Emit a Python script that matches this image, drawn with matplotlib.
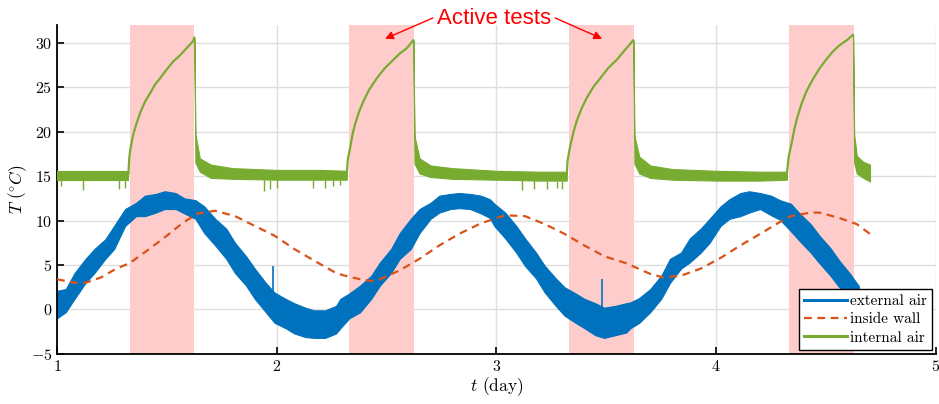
import numpy as np
import matplotlib
matplotlib.use('Agg')
import matplotlib.pyplot as plt

plt.rcParams['font.family'] = 'serif'
plt.rcParams['font.serif'] = ['cmr10', 'DejaVu Serif']
plt.rcParams['mathtext.fontset'] = 'cm'
plt.rcParams['axes.formatter.use_mathtext'] = True

# external air: noisy band (time, lower edge, upper edge)
ext_t = [1.00, 1.04, 1.08, 1.13, 1.17, 1.22, 1.26, 1.31, 1.36, 1.40, 1.45, 1.49, 1.54, 1.58,
         1.63, 1.67, 1.72, 1.77, 1.81, 1.86, 1.90, 1.95, 1.99, 2.04, 2.08, 2.13, 2.17, 2.22,
         2.27, 2.29, 2.33, 2.38, 2.43, 2.47, 2.52, 2.56, 2.61, 2.65, 2.70, 2.74, 2.79, 2.83,
         2.88, 2.93, 2.97, 2.99, 3.04, 3.09, 3.13, 3.18, 3.22, 3.27, 3.31, 3.36, 3.40, 3.45,
         3.49, 3.54, 3.59, 3.61, 3.65, 3.70, 3.75, 3.79, 3.84, 3.88, 3.93, 3.97, 4.02, 4.06,
         4.11, 4.15, 4.20, 4.25, 4.29, 4.34, 4.38, 4.43, 4.47, 4.52, 4.56, 4.61, 4.65]
ext_lo = [-1.0, -0.3, 1.2, 3.0, 4.1, 5.7, 6.8, 9.4, 10.5, 10.5, 10.9, 11.3, 11.3, 10.8,
          10.2, 8.6, 7.2, 5.7, 4.1, 2.7, 1.2, -0.3, -1.5, -2.1, -2.7, -3.1, -3.2, -3.2,
          -2.7, -2.1, -1.0, -0.3, 1.2, 2.7, 4.1, 5.7, 6.8, 8.6, 10.2, 10.9, 11.3, 11.4,
          11.3, 10.8, 10.3, 9.4, 8.0, 6.4, 4.9, 3.5, 1.9, 0.4, -0.7, -1.5, -2.1, -2.9,
          -3.2, -2.9, -2.6, -2.1, -1.5, -0.3, 1.2, 3.0, 4.6, 5.3, 6.4, 7.5, 9.4, 10.2,
          10.5, 10.9, 11.3, 10.6, 10.1, 8.8, 7.7, 6.4, 5.2, 3.8, 2.5, 1.8, 1.3]
ext_hi = [2.1, 2.3, 4.1, 5.7, 6.8, 7.9, 9.4, 11.3, 12.0, 12.8, 13.0, 13.3, 13.1, 12.5,
          12.3, 11.6, 10.2, 9.1, 7.5, 6.0, 4.6, 3.0, 1.9, 1.2, 0.7, 0.2, -0.1, -0.1,
          0.4, 1.2, 1.8, 2.7, 3.8, 5.3, 6.8, 8.6, 10.2, 11.3, 12.0, 12.8, 13.0, 13.1,
          13.0, 12.8, 12.4, 11.9, 10.9, 9.4, 8.0, 6.4, 4.9, 3.5, 2.5, 1.8, 1.2, 0.7,
          0.2, 0.4, 0.7, 0.8, 1.3, 2.3, 3.8, 5.7, 6.4, 8.0, 9.1, 10.2, 11.6, 12.4,
          13.1, 13.3, 13.1, 12.8, 12.3, 11.9, 10.8, 9.6, 8.3, 6.9, 5.5, 4.0, 2.6]
ext_spike_t = [1.983, 3.48]
ext_spike_top = [4.9, 3.4]

# inside wall
wall_t = [1.00, 1.08, 1.13, 1.20, 1.27, 1.33, 1.42, 1.50, 1.57, 1.64, 1.72, 1.81, 1.90,
          1.99, 2.08, 2.17, 2.27, 2.31, 2.38, 2.43, 2.47, 2.56, 2.65, 2.74, 2.83, 2.93,
          3.04, 3.13, 3.22, 3.31, 3.40, 3.49, 3.59, 3.70, 3.76, 3.84, 3.93, 4.02, 4.11,
          4.20, 4.28, 4.34, 4.43, 4.47, 4.56, 4.64, 4.70]
wall = [3.4, 3.0, 3.0, 3.6, 4.6, 5.2, 6.8, 8.3, 9.7, 10.8, 11.1, 10.5, 9.4,
        8.3, 6.8, 5.5, 4.1, 3.8, 3.4, 3.2, 3.4, 4.4, 5.7, 7.2, 8.5, 9.7,
        10.6, 10.5, 9.6, 8.5, 7.2, 6.0, 5.2, 4.0, 3.6, 3.8, 4.6, 5.8, 7.2,
        8.5, 9.7, 10.5, 10.9, 10.9, 10.3, 9.6, 8.5]

# internal air during the four heating runs (single clean curve)
heat1_t = [1.325, 1.329, 1.335, 1.347, 1.363, 1.378, 1.401, 1.423, 1.446, 1.469, 1.499, 1.529, 1.56, 1.59, 1.62, 1.625]
heat1 = [15.2, 17.1, 18.2, 19.7, 21.0, 22.1, 23.4, 24.3, 25.3, 26.0, 27.0, 27.9, 28.6, 29.4, 30.2, 30.6]
heat2_t = [2.319, 2.323, 2.334, 2.345, 2.356, 2.374, 2.394, 2.42, 2.455, 2.49, 2.531, 2.56, 2.592, 2.622]
heat2 = [15.2, 16.8, 18.2, 19.7, 20.8, 22.2, 23.4, 24.7, 26.0, 27.1, 28.1, 28.8, 29.4, 30.3]
heat3_t = [3.320, 3.324, 3.335, 3.35, 3.365, 3.387, 3.411, 3.44, 3.472, 3.51, 3.548, 3.585, 3.623]
heat3 = [15.2, 16.8, 18.3, 19.9, 21.2, 22.6, 23.8, 25.0, 26.0, 27.2, 28.1, 29.2, 30.3]
heat4_t = [4.322, 4.330, 4.345, 4.356, 4.368, 4.388, 4.41, 4.44, 4.47, 4.50, 4.53, 4.56, 4.595, 4.623]
heat4 = [15.3, 17.2, 18.9, 20.3, 21.5, 23.1, 24.5, 25.9, 27.1, 28.1, 29.0, 29.7, 30.3, 30.9]

# internal air outside the heating runs: noisy band (time, lower edge, upper edge)
rest1_t = [1.00, 1.10, 1.20, 1.325]
rest1_lo = [14.6, 14.6, 14.6, 14.6]
rest1_hi = [15.6, 15.6, 15.6, 15.6]
rest2_t = [1.625, 1.630, 1.65, 1.70, 1.80, 2.00, 2.20, 2.319]
rest2_lo = [30.6, 16.5, 15.5, 14.8, 14.7, 14.6, 14.6, 14.6]
rest2_hi = [30.6, 19.7, 17.0, 16.3, 15.9, 15.7, 15.7, 15.6]
rest3_t = [2.622, 2.627, 2.65, 2.70, 2.80, 3.00, 3.20, 3.320]
rest3_lo = [30.3, 16.4, 15.3, 14.9, 14.7, 14.6, 14.5, 14.5]
rest3_hi = [30.3, 19.5, 17.0, 16.2, 15.9, 15.6, 15.5, 15.5]
rest4_t = [3.623, 3.628, 3.65, 3.70, 3.80, 4.00, 4.20, 4.322]
rest4_lo = [30.3, 16.4, 15.3, 14.8, 14.6, 14.5, 14.5, 14.6]
rest4_hi = [30.3, 19.5, 17.2, 16.2, 15.8, 15.6, 15.5, 15.5]
rest5_t = [4.623, 4.628, 4.64, 4.67, 4.70]
rest5_lo = [30.9, 16.5, 15.3, 14.8, 14.4]
rest5_hi = [30.9, 19.7, 17.3, 16.6, 16.3]
int_spike_t = [1.018, 1.12, 1.28, 1.31, 1.94, 1.97, 2.00, 2.165, 2.22, 2.256, 2.29,
               3.116, 3.17, 3.23, 3.276, 3.30]
int_spike_low = [13.9, 13.4, 13.6, 13.7, 13.3, 13.6, 13.7, 13.7, 13.7, 13.9, 14.0,
                 13.4, 13.6, 13.6, 13.7, 13.6]

# active test windows
test_start = [1.33, 2.33, 3.33, 4.33]
test_end = [1.625, 2.625, 3.625, 4.625]

blue = '#0072BD'
orange = '#D95319'
green = '#77AC30'

fig = plt.figure(figsize=(9.39, 4.04), dpi=100)
ax = fig.add_axes([0.0607, 0.124, 0.936, 0.814])

ax.grid(True, color='#dedede', linewidth=1.0, zorder=0)
ax.set_axisbelow(True)

for a, b in zip(test_start, test_end):
    ax.axvspan(a, b, color='#ffcccc', linewidth=0, zorder=1)

ext_mid = (np.array(ext_lo) + np.array(ext_hi)) / 2
ax.fill_between(ext_t, ext_lo, ext_hi, color=blue, linewidth=0.8, edgecolor=blue, zorder=2)
ax.plot(ext_t, ext_mid, color=blue, linewidth=1.5, zorder=2)
ax.plot([], [], color=blue, linewidth=2.2, label='external air')
ax.vlines(ext_spike_t, np.interp(ext_spike_t, ext_t, ext_mid), ext_spike_top,
          color=blue, linewidth=1.2, zorder=2)

ax.plot(wall_t, wall, color=orange, linewidth=1.6, linestyle=(0, (3.5, 2.5)),
        label='inside wall', zorder=3)

rests = [(rest1_t, rest1_lo, rest1_hi), (rest2_t, rest2_lo, rest2_hi),
         (rest3_t, rest3_lo, rest3_hi), (rest4_t, rest4_lo, rest4_hi),
         (rest5_t, rest5_lo, rest5_hi)]
for t, lo, hi in rests:
    ax.fill_between(t, lo, hi, color=green, linewidth=0.8, edgecolor=green, zorder=4)
for t, v in [(heat1_t, heat1), (heat2_t, heat2), (heat3_t, heat3), (heat4_t, heat4)]:
    ax.plot(t, v, color=green, linewidth=1.6, zorder=4, solid_capstyle='round')
ax.plot([], [], color=green, linewidth=2.2, label='internal air')

all_t = np.concatenate([rest1_t, rest2_t, rest3_t, rest4_t])
all_lo = np.concatenate([rest1_lo, rest2_lo, rest3_lo, rest4_lo])
ax.vlines(int_spike_t, np.interp(int_spike_t, all_t, all_lo), int_spike_low,
          color=green, linewidth=1.0, zorder=4)

ax.set_xlim(1, 5)
ax.set_ylim(-5, 32)
ax.set_xticks([1, 2, 3, 4, 5])
ax.set_yticks([-5, 0, 5, 10, 15, 20, 25, 30])
ax.tick_params(direction='in', length=5, width=1.2, labelsize=11.5, colors='black')
for s in ['top', 'right']:
    ax.spines[s].set_visible(False)
for s in ['left', 'bottom']:
    ax.spines[s].set_linewidth(1.3)

ax.set_xlabel(r'$t$ (day)', fontsize=12.5, labelpad=1)
ax.set_ylabel(r'$T\ (^{\circ}C)$', fontsize=12.5, labelpad=1)

leg = ax.legend(loc='lower right', fontsize=11, frameon=True, fancybox=False,
                framealpha=1, edgecolor='black', handlelength=2.8, handletextpad=0.2,
                borderpad=0.35, labelspacing=0.3, borderaxespad=0.25)
leg.get_frame().set_linewidth(1.0)
leg.set_zorder(10)

ax.text(2.99, 32.75, 'Active tests', color='#ff0000', fontsize=16,
        family='Liberation Sans', ha='center', va='center', clip_on=False)
ax.annotate('', xy=(2.493, 30.46), xytext=(2.711, 32.8), annotation_clip=False,
            arrowprops=dict(arrowstyle='-|>', color='#ff0000', lw=1.0,
                            mutation_scale=12, shrinkA=0, shrinkB=0))
ax.annotate('', xy=(3.481, 30.46), xytext=(3.267, 32.8), annotation_clip=False,
            arrowprops=dict(arrowstyle='-|>', color='#ff0000', lw=1.0,
                            mutation_scale=12, shrinkA=0, shrinkB=0))

fig.savefig('out.png', dpi=100)
